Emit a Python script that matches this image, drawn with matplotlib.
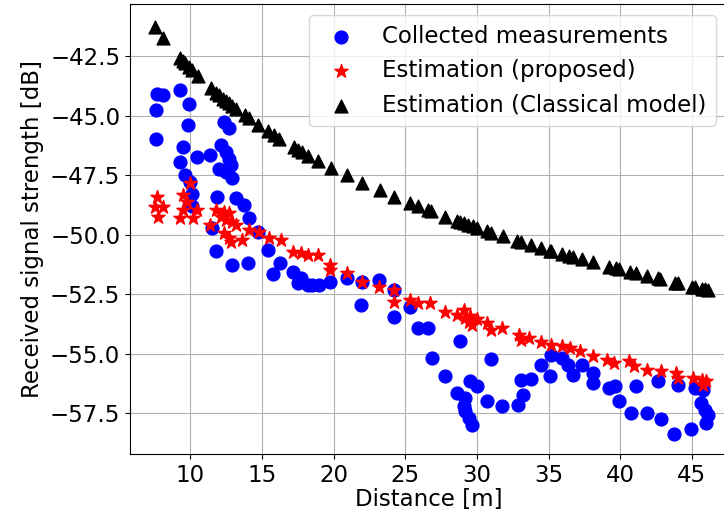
import matplotlib
matplotlib.use("Agg")
import matplotlib.pyplot as plt

# measured RSS vs. distance
meas_d = [7.63, 8.10, 7.56, 7.56, 9.27, 9.93, 9.86, 9.51, 9.27, 10.45,
          9.63, 9.98, 11.39, 12.33, 12.69, 12.10, 12.45, 12.69, 12.80, 11.98,
          12.45, 12.93, 10.10, 10.10, 11.87, 13.16, 13.75, 14.10, 11.51, 14.70,
          11.75, 15.40, 12.93, 13.99, 16.22, 15.75, 17.17, 17.75, 17.52, 18.23,
          18.50, 19.00, 19.75, 20.93, 21.99, 23.17, 21.87, 24.23, 24.23, 25.29,
          25.88, 26.59, 28.82, 26.83, 27.77, 28.59, 29.18, 29.06, 29.18, 29.42,
          29.65, 29.53, 30.00, 30.71, 31.77, 30.95, 32.83, 33.18, 33.07, 33.77,
          34.48, 35.07, 35.19, 35.90, 36.36, 36.71, 37.31, 38.13, 38.13, 39.18,
          39.66, 39.90, 40.72, 41.08, 41.90, 42.84, 42.60, 43.78, 44.02, 44.96,
          45.19, 45.78, 45.67, 45.90, 46.14, 45.97]
meas_rss = [-44.10, -44.14, -44.77, -45.96, -43.93, -44.49, -45.40, -46.30, -46.94, -46.73,
            -47.50, -47.78, -46.66, -45.26, -45.53, -46.24, -46.52, -46.80, -47.08, -47.22,
            -47.36, -47.63, -48.30, -48.80, -48.40, -48.47, -48.76, -49.30, -49.73, -49.88,
            -50.70, -50.64, -51.27, -51.20, -51.20, -51.65, -51.56, -51.83, -52.04, -52.10,
            -52.10, -52.12, -51.97, -51.83, -51.97, -51.90, -52.95, -52.32, -53.44, -53.02,
            -53.93, -53.93, -54.45, -55.19, -55.93, -56.66, -56.87, -57.22, -57.43, -57.71,
            -57.99, -56.17, -56.38, -57.01, -57.22, -55.24, -57.15, -56.73, -56.10, -56.07,
            -55.47, -55.96, -55.05, -55.19, -55.47, -55.89, -55.47, -55.83, -56.24, -56.45,
            -56.38, -57.01, -57.50, -56.38, -57.50, -57.75, -56.17, -58.37, -56.31, -58.17,
            -56.45, -56.52, -57.08, -57.36, -57.57, -57.92]

# proposed estimator
prop_d = [7.63, 7.51, 8.09, 7.75, 9.51, 9.75, 9.51, 9.27, 10.21, 10.45,
          9.98, 11.75, 12.33, 12.69, 12.10, 12.45, 12.93, 13.16, 11.39, 12.33,
          12.69, 12.81, 13.63, 14.10, 14.80, 15.51, 16.34, 17.17, 17.75, 18.23,
          18.93, 19.75, 19.75, 20.93, 21.99, 23.17, 24.23, 24.23, 25.29, 25.88,
          26.71, 27.77, 28.59, 29.06, 29.18, 29.42, 29.65, 29.53, 30.00, 30.71,
          30.95, 31.77, 32.95, 33.07, 33.65, 34.48, 35.19, 35.90, 36.48, 37.20,
          38.13, 39.07, 39.54, 40.60, 40.96, 41.90, 42.84, 43.90, 44.02, 45.08,
          45.70, 46.00, 45.80]
prop_rss = [-48.41, -48.83, -48.83, -49.25, -48.34, -48.62, -48.97, -49.31, -49.31, -48.97,
            -47.84, -48.97, -49.04, -49.10, -49.25, -49.39, -49.46, -49.60, -49.60, -49.94,
            -50.15, -50.30, -50.22, -49.80, -49.88, -50.15, -50.22, -50.72, -50.78, -50.85,
            -50.85, -51.27, -51.50, -51.62, -51.97, -52.18, -52.32, -52.81, -52.74, -52.88,
            -52.88, -53.23, -53.37, -53.16, -53.50, -53.65, -53.79, -53.40, -53.55, -53.72,
            -54.00, -53.93, -54.21, -54.42, -54.35, -54.49, -54.63, -54.70, -54.77, -54.91,
            -55.12, -55.26, -55.40, -55.33, -55.54, -55.68, -55.75, -55.82, -56.03, -56.03,
            -56.10, -56.15, -56.30]

# classical log-distance model
cls_d = [7.5, 8.1, 9.3, 9.5, 9.6, 9.9, 10.1, 10.5, 11.4, 11.8,
         12.0, 12.3, 12.5, 12.7, 12.9, 13.2, 13.8, 14.1, 14.7, 15.4,
         15.8, 16.2, 17.2, 17.5, 17.8, 18.2, 18.9, 19.8, 20.9, 22.0,
         23.2, 24.2, 25.3, 25.9, 26.6, 26.8, 27.8, 28.6, 28.8, 29.1,
         29.4, 29.7, 30.0, 30.7, 31.0, 31.8, 32.8, 33.1, 33.8, 34.5,
         35.1, 35.2, 35.9, 36.4, 36.7, 37.3, 38.1, 39.2, 39.7, 39.9,
         40.7, 41.1, 41.9, 42.6, 42.8, 43.8, 44.0, 45.0, 45.2, 45.7,
         45.9, 46.1]
cls_rss = [-41.27, -41.74, -42.58, -42.71, -42.77, -42.96, -43.08, -43.32, -43.82, -44.03,
           -44.13, -44.28, -44.38, -44.48, -44.57, -44.71, -44.98, -45.11, -45.37, -45.65,
           -45.81, -45.96, -46.32, -46.43, -46.53, -46.67, -46.90, -47.18, -47.51, -47.82,
           -48.14, -48.40, -48.67, -48.81, -48.98, -49.02, -49.24, -49.42, -49.46, -49.52,
           -49.59, -49.65, -49.71, -49.85, -49.91, -50.06, -50.25, -50.31, -50.44, -50.56,
           -50.67, -50.68, -50.80, -50.89, -50.94, -51.04, -51.16, -51.34, -51.42, -51.45,
           -51.57, -51.63, -51.74, -51.84, -51.87, -52.01, -52.04, -52.18, -52.20, -52.27,
           -52.30, -52.33]

plt.rcParams['font.size'] = 16.5

fig = plt.figure(figsize=(7.24, 5.11), dpi=100)
ax = fig.add_axes([130/724, 1 - 454/511, 597/724, 450/511])

ax.scatter(meas_d, meas_rss, s=85, c='blue', marker='o', label='Collected measurements', zorder=2)
ax.scatter(prop_d, prop_rss, s=100, c='red', marker='*', label='Estimation (proposed)', zorder=3)
ax.scatter(cls_d, cls_rss, s=85, c='black', marker='^', label='Estimation (Classical model)', zorder=2)

ax.set_xlim(5.78, 47.45)
ax.set_ylim(-59.22, -40.3)
ax.set_xticks([10, 15, 20, 25, 30, 35, 40, 45])
ax.set_yticks([-42.5, -45.0, -47.5, -50.0, -52.5, -55.0, -57.5])
ax.grid(True)
ax.set_axisbelow(True)
ax.set_xlabel('Distance [m]', labelpad=1)
ax.set_ylabel('Received signal strength [dB]')
ax.legend(loc='upper right')

fig.savefig('out.png', dpi=100)
